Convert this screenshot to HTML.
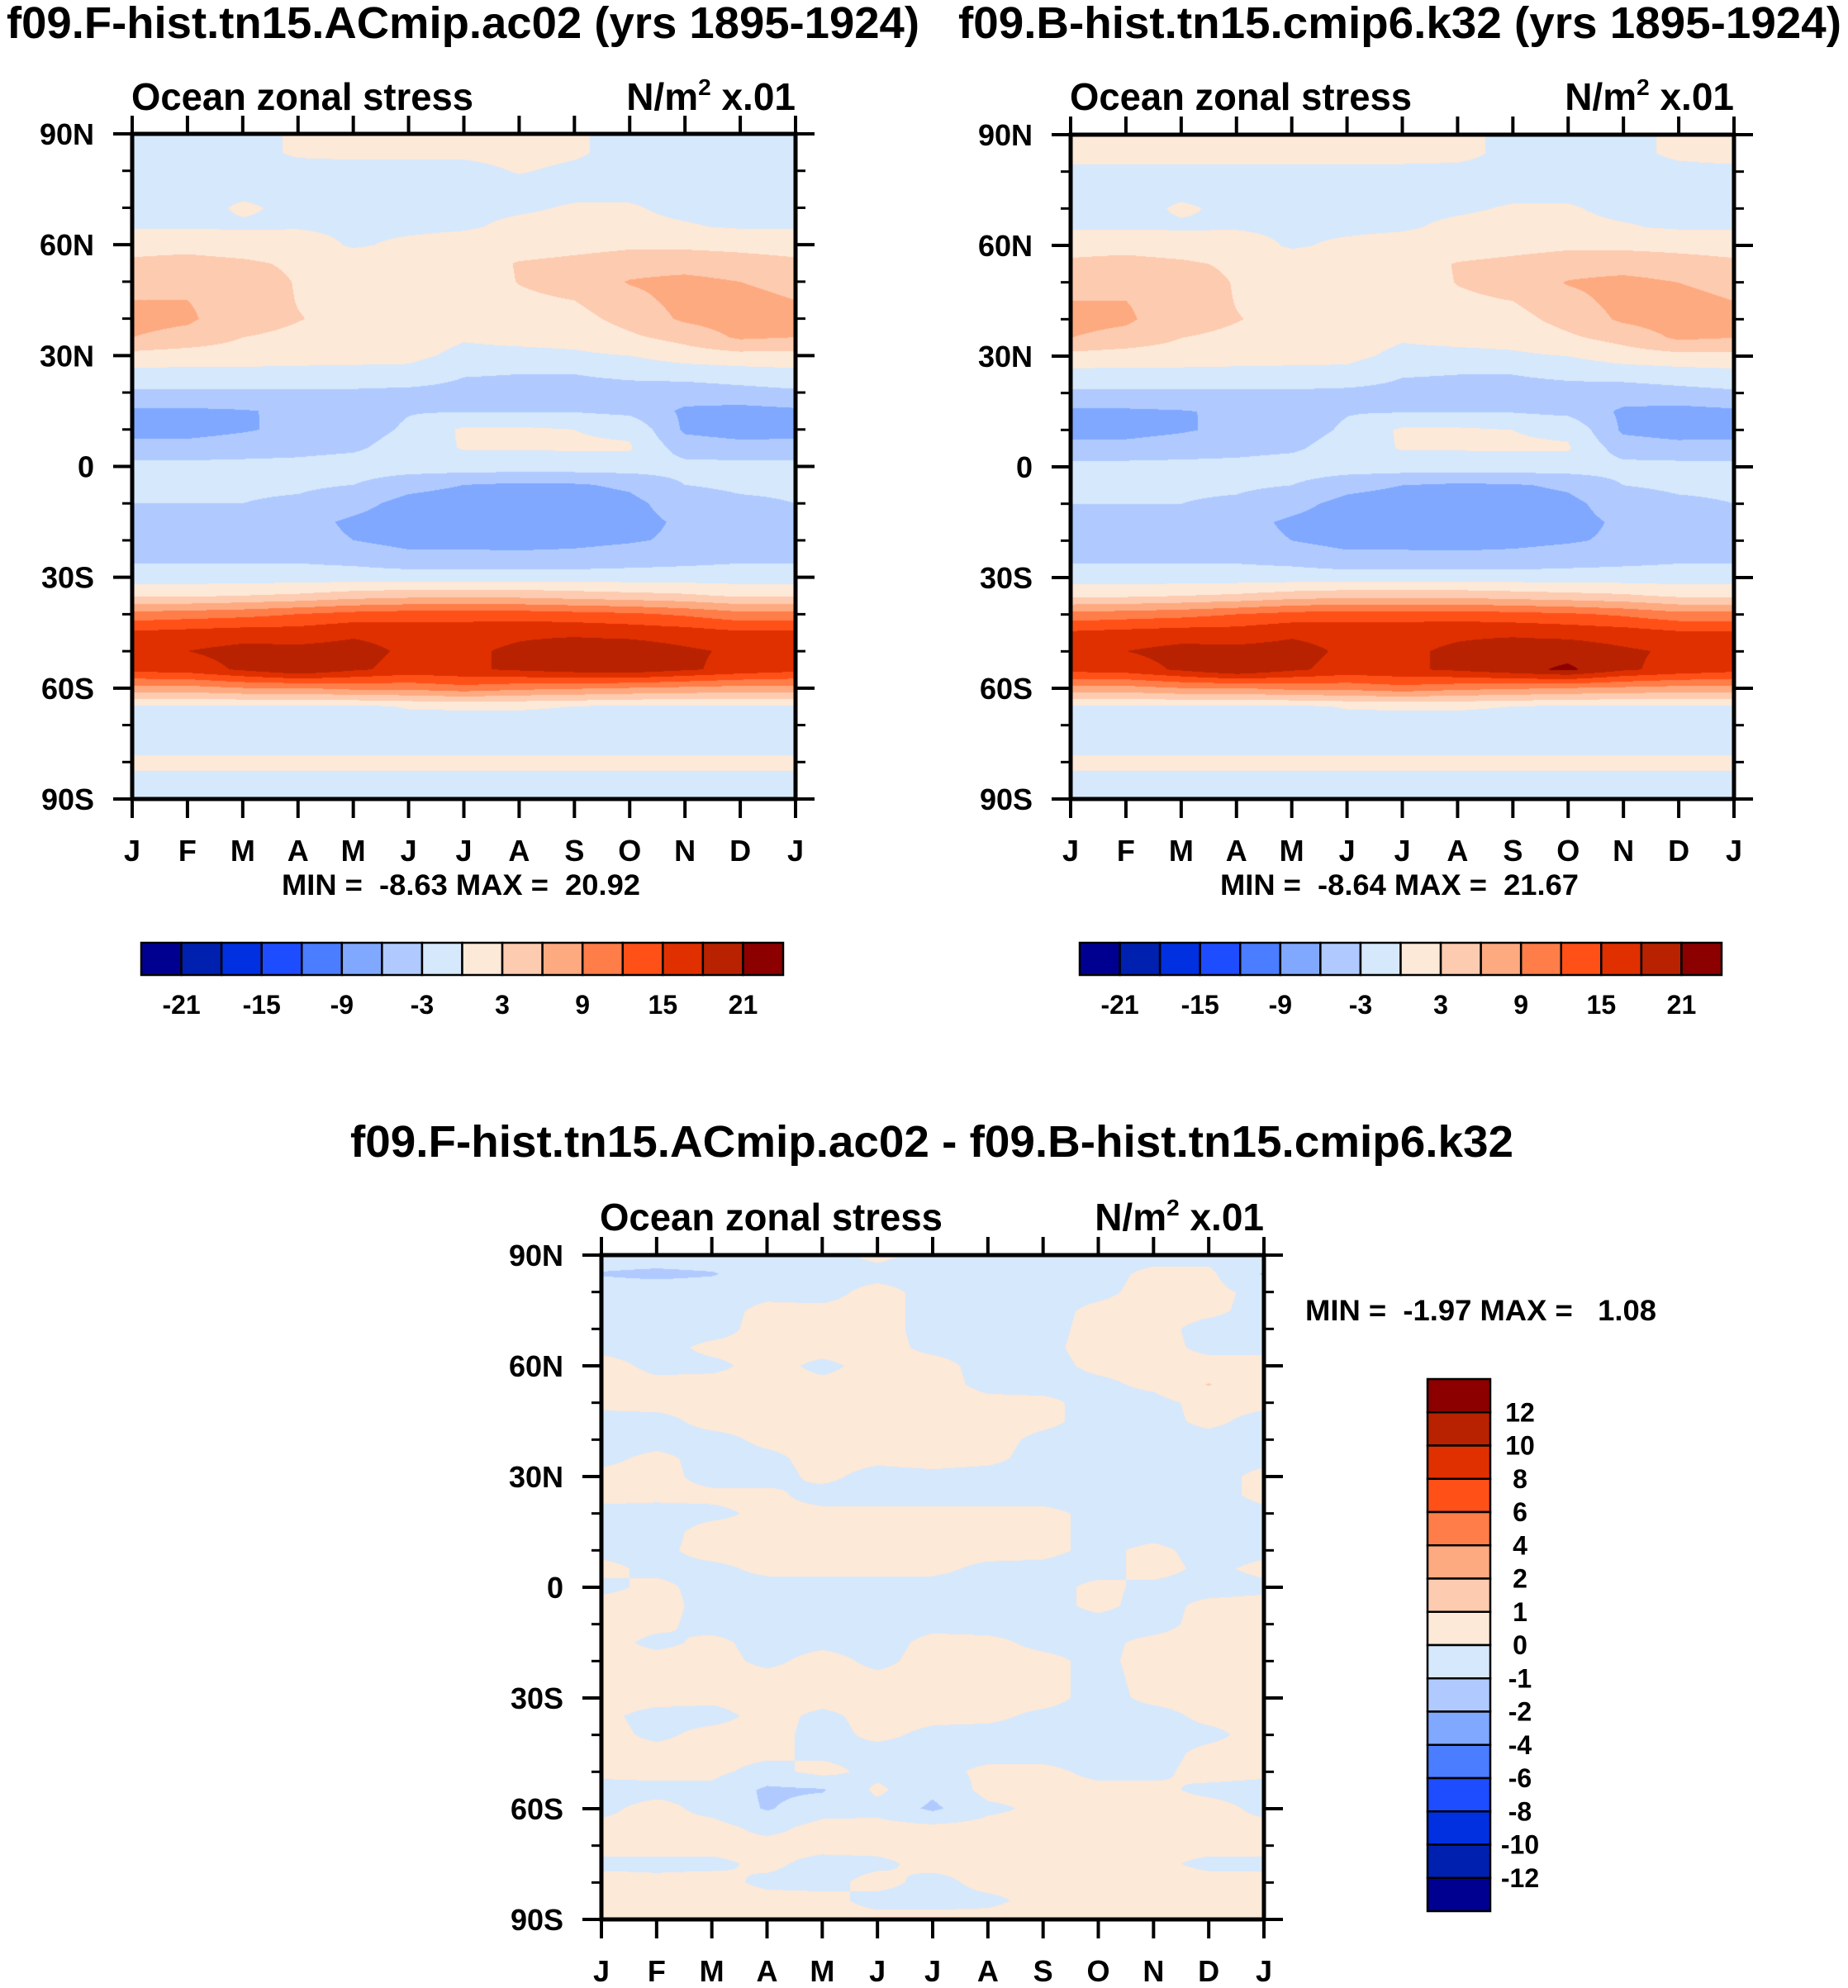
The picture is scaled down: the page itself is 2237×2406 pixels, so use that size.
<!DOCTYPE html>
<html><head><meta charset="utf-8"><title>Ocean zonal stress</title>
<style>
html,body{margin:0;padding:0;background:#fff;}
#wrap{position:relative;width:2237px;height:2406px;overflow:hidden;background:#fff;}
canvas{position:absolute;display:block;}
svg{position:absolute;left:0;top:0;}
text{font-family:"Liberation Sans",Arial,sans-serif;font-weight:bold;fill:#000;}
</style></head>
<body>
<div id="wrap">
<canvas id="cv1" width="803" height="805" style="left:160px;top:162px"></canvas>
<canvas id="cv2" width="803" height="804" style="left:1296px;top:163px"></canvas>
<canvas id="cv3" width="802" height="804" style="left:728px;top:1519px"></canvas>
<svg id="ov" width="2237" height="2406" viewBox="0 0 2237 2406">
<text x="8" y="46" font-size="54" textLength="1105" lengthAdjust="spacingAndGlyphs">f09.F-hist.tn15.ACmip.ac02 (yrs 1895-1924)</text>
<text x="1160" y="46" font-size="54" textLength="1069" lengthAdjust="spacingAndGlyphs">f09.B-hist.tn15.cmip6.k32 (yrs 1895-1924)</text>
<text x="424" y="1400" font-size="54" textLength="1408" lengthAdjust="spacingAndGlyphs">f09.F-hist.tn15.ACmip.ac02 - f09.B-hist.tn15.cmip6.k32</text>

<text x="159" y="133" font-size="46" textLength="414" lengthAdjust="spacingAndGlyphs">Ocean zonal stress</text>
<text x="963" y="133" font-size="46" text-anchor="end">N/m<tspan font-size="28" dy="-18">2</tspan><tspan dy="18"> x.01</tspan></text>
<text x="1295" y="133" font-size="46" textLength="414" lengthAdjust="spacingAndGlyphs">Ocean zonal stress</text>
<text x="2099" y="133" font-size="46" text-anchor="end">N/m<tspan font-size="28" dy="-18">2</tspan><tspan dy="18"> x.01</tspan></text>
<text x="726" y="1489" font-size="46" textLength="415" lengthAdjust="spacingAndGlyphs">Ocean zonal stress</text>
<text x="1530" y="1489" font-size="46" text-anchor="end">N/m<tspan font-size="28" dy="-18">2</tspan><tspan dy="18"> x.01</tspan></text>

<text x="341" y="1083" font-size="35" textLength="434" lengthAdjust="spacingAndGlyphs" xml:space="preserve">MIN =  -8.63 MAX =  20.92</text>
<text x="1477" y="1083" font-size="35" textLength="434" lengthAdjust="spacingAndGlyphs" xml:space="preserve">MIN =  -8.64 MAX =  21.67</text>
<text x="1580" y="1598" font-size="35" textLength="425" lengthAdjust="spacingAndGlyphs" xml:space="preserve">MIN =  -1.97 MAX =   1.08</text>
<g id="axes"></g>
</svg>
</div>
<script>
const palette = ['#000090','#0020b0','#0030e0','#1e4cff','#4a7dff','#80a8ff','#b0caff','#d6e8fc','#fde9d8','#fdcbb0','#fdaa80','#ff7d48','#ff5018','#e03000','#b82200','#8c0000'];
const levelsMain = [-21,-18,-15,-12,-9,-6,-3,0,3,6,9,12,15,18,21];
const levelsDiff = [-12,-10,-8,-6,-4,-2,-1,0,1,2,4,6,8,10,12];
const cbarMainLabels = [-21,-15,-9,-3,3,9,15,21];
const cbarDiffLabels = [12,10,8,6,4,2,1,0,-1,-2,-4,-6,-8,-10,-12];
const monthLabels = ['J','F','M','A','M','J','J','A','S','O','N','D','J'];
const latTicks = [90,60,30,0,-30,-60,-90];
const latTickLabels = ['90N','60N','30N','0','30S','60S','90S'];
const latMinor = [80,70,50,40,20,10,-10,-20,-40,-50,-70,-80];

const acJan=[-0.5,-0.5,-0.5,-0.5,-0.8,-0.3,2,3.5,5,6,7,6,2,-1,-3.5,-6.5,-7,-5,-2,-2.5,-3,-4,-4.5,-3.5,-1.5,2.5,10,15.5,17.5,16,8,-0.5,-1,-1,0.5,-0.5,-0.5];
const acFeb=[-0.5,-0.5,-0.5,-0.5,-0.8,-0.3,2,4,5,6,6.5,5,1.5,-1,-3.5,-6.5,-7,-5,-2,-2.5,-3,-4,-4.5,-3.5,-1.5,2.5,10.5,16,18,16.5,8,-0.5,-1,-1,0.5,-0.5,-0.5];
const acMar=[-0.5,-0.5,-0.5,-0.5,0.3,-0.3,1.5,3.5,4.5,4.5,4,3,1.5,-1,-3.5,-6.2,-6.3,-4.5,-2,-2.5,-3,-4,-4.5,-3.5,-1.5,3,11,16.5,19,18.5,9,-0.5,-1,-1,0.5,-0.5,-0.5];
const acApr=[0.2,0.2,-0.5,-0.5,-0.5,-0.2,1.2,2.5,2.8,2.9,3.1,2.5,1.2,-1,-3.5,-5.5,-5.3,-4,-2,-2.5,-3.5,-5,-5,-3.5,-1.5,3.5,12,16.5,18.8,20.8,9,-0.5,-1,-1,0.5,-0.5,-0.5];
const acMay=[0.3,0.3,-0.5,-0.5,-0.5,-0.5,-0.3,1.5,2,2.2,2.3,2,1,-1,-3.5,-4.5,-4.5,-3.5,-1.5,-3,-5,-6.5,-6,-4,-1.5,4.5,13,17.5,19,18.5,10,-0.5,-1,-1,0.5,-0.5,-0.5];
const acJun=[0.3,0.3,-0.5,-0.5,-0.5,-0.5,0.5,1.5,1.5,1.8,1.8,1.5,0.8,-1,-3.8,-3.2,-2.5,-1.5,-1.5,-5,-7,-7.5,-7,-5,-1.5,5,13.5,17,17.5,17,10,0.2,-1,-1,0.5,-0.5,-0.5];
const acJul=[0.3,0.3,-0.5,-0.5,-0.5,-0.3,1,1.5,1.5,1.5,1.2,0.3,-0.8,-2.8,-4,-3.2,0.5,0.2,-1.5,-6,-7.5,-7.8,-7,-5,-1.5,5,13.5,17,17.5,17.5,11,0.3,-1,-1,0.5,-0.5,-0.5];
const acAug=[0.5,0.5,0.1,-0.5,-0.3,0.5,1.5,3.2,3.1,2.5,1.8,0.8,-0.8,-3,-4,-3.2,0.5,0.2,-1.5,-6.5,-7.8,-8,-7.2,-5,-1.5,5,13.5,17.5,18.5,18.5,10,0.3,-1,-1,0.5,-0.5,-0.5];
const acSep=[0.2,0.2,-0.3,-0.5,0.2,0.8,2,3.8,4,3,2,1,-0.5,-3,-4,-3.2,0,0.3,-1.5,-6.3,-7.5,-7.8,-6.8,-5,-1.5,4.5,13,17.5,19.5,19.5,9.5,0,-1,-1,0.5,-0.5,-0.5];
const acOct=[-0.5,-0.5,-0.5,-0.5,0.2,0.5,2.5,4.5,6.2,5,4,2.5,0,-2.5,-4,-3.8,-0.5,0.3,-1.5,-5.5,-6.8,-7,-6.3,-4.5,-1.5,4,12.5,17,19.8,20,9,-0.5,-1,-1,0.5,-0.5,-0.5];
const acNov=[-0.5,-0.5,-0.5,-0.5,-0.5,0.2,2.5,4.5,7,7,6.5,4,1.5,-2,-4.5,-6.5,-6.5,-4.5,-2,-3,-4.5,-5.5,-5.5,-4,-1.5,3.5,11.5,16.5,18.5,18.5,8.5,-0.5,-1,-1,0.5,-0.5,-0.5];
const acDec=[-0.5,-0.5,-0.5,-0.5,-0.5,-0.3,2.3,4,6,7,7.5,6.5,2,-1.5,-4,-7,-7.2,-5,-2,-2.5,-3.5,-4.5,-4.8,-3.5,-1.5,2.5,10,15.5,17.5,17,8,-0.5,-1,-1,0.5,-0.5,-0.5];
const acMonths=[acJan,acFeb,acMar,acApr,acMay,acJun,acJul,acAug,acSep,acOct,acNov,acDec];

const kJan=[0.4,0.4,-0.3,-0.5,-0.8,-0.3,2,3.5,5,6,7,6,2,-1,-3.5,-6.5,-7,-5,-2,-2.5,-3,-4,-4.5,-3.5,-1.5,2.5,10,15.5,17.5,16,8,-0.5,-1,-1,0.5,-0.5,-0.5];
const kFeb=[0.4,0.4,-0.3,-0.5,-0.8,-0.3,2,4,5,6,6.5,5,1.5,-1,-3.5,-6.5,-7,-5,-2,-2.5,-3,-4,-4.5,-3.5,-1.5,2.5,10.5,16,18,16.5,8,-0.5,-1,-1,0.5,-0.5,-0.5];
const kMar=[0.4,0.4,-0.3,-0.5,0.3,-0.3,1.5,3.5,4.5,4.5,4,3,1.5,-1,-3.5,-6.2,-6.3,-4.5,-2,-2.5,-3,-4,-4.5,-3.5,-1.5,3,11,16.5,19,18.5,9,-0.5,-1,-1,0.5,-0.5,-0.5];
const kApr=[0.4,0.4,-0.3,-0.5,-0.5,-0.2,1.2,2.5,2.8,2.9,3.1,2.5,1.2,-1,-3.5,-5.5,-5.3,-4,-2,-2.5,-3.5,-5,-5,-3.5,-1.5,3.5,12,16.5,18.8,20.8,9,-0.5,-1,-1,0.5,-0.5,-0.5];
const kMay=[0.4,0.4,-0.3,-0.5,-0.5,-0.5,-0.3,1.5,2,2.2,2.3,2,1,-1,-3.5,-4.5,-4.5,-3.5,-1.5,-3,-5,-6.5,-6,-4,-1.5,4.5,13,17.5,19,18.5,10,-0.5,-1,-1,0.5,-0.5,-0.5];
const kJun=[0.4,0.4,-0.3,-0.5,-0.5,-0.5,0.5,1.5,1.5,1.8,1.8,1.5,0.8,-1,-3.8,-3.2,-2.5,-1.5,-1.5,-5,-7,-7.5,-7,-5,-1.5,5,13.5,17,17.5,17,10,0.2,-1,-1,0.5,-0.5,-0.5];
const kJul=[0.4,0.4,-0.3,-0.5,-0.5,-0.3,1,1.5,1.5,1.5,1.2,0.3,-0.8,-2.8,-4,-3.2,0.5,0.2,-1.5,-6,-7.5,-7.8,-7,-5,-1.5,5,13.5,17,17.5,17.5,11,0.3,-1,-1,0.5,-0.5,-0.5];
const kAug=[0.3,0.3,-0.3,-0.5,-0.3,0.5,1.5,3.2,3.1,2.5,1.8,0.8,-0.8,-3,-4,-3.2,0.5,0.2,-1.5,-6.5,-7.8,-8,-7.2,-5,-1.5,5,13.5,17.5,18.5,18.5,10,0.3,-1,-1,0.5,-0.5,-0.5];
const kSep=[-0.3,-0.3,-0.3,-0.5,0.2,0.8,2,3.8,4,3,2,1,-0.5,-3,-4,-3.2,0,0.3,-1.5,-6.3,-7.5,-7.8,-6.8,-5,-1.5,4.5,13,17.5,19.5,20,9.5,0,-1,-1,0.5,-0.5,-0.5];
const kOct=[-0.5,-0.5,-0.5,-0.5,0.2,0.5,2.5,4.5,6.2,5,4,2.5,0,-2.5,-4,-3.8,-0.5,0.3,-1.5,-5.5,-6.8,-7,-6.3,-4.5,-1.5,4,12.5,17,19.8,21.6,9,-0.5,-1,-1,0.5,-0.5,-0.5];
const kNov=[-0.3,-0.3,-0.5,-0.5,-0.5,0.2,2.5,4.5,7,7,6.5,4,1.5,-2,-4.5,-6.5,-6.5,-4.5,-2,-3,-4.5,-5.5,-5.5,-4,-1.5,3.5,11.5,16.5,18.5,18.5,8.5,-0.5,-1,-1,0.5,-0.5,-0.5];
const kDec=[0.2,0.2,-0.3,-0.5,-0.5,-0.3,2.3,4,6,7,7.5,6.5,2,-1.5,-4,-7,-7.2,-5,-2,-2.5,-3.5,-4.5,-4.8,-3.5,-1.5,2.5,10,15.5,17.5,17,8,-0.5,-1,-1,0.5,-0.5,-0.5];
const kMonths=[kJan,kFeb,kMar,kApr,kMay,kJun,kJul,kAug,kSep,kOct,kNov,kDec];

const dJan=[-0.3,-1.1,-0.3,-0.3,-0.3,-0.2,0.3,0.3,0.2,-0.3,-0.3,-0.2,0.2,0.2,-0.2,-0.3,-0.2,0.2,-0.2,0.3,0.3,0.3,0.2,0.3,0.3,0.2,0.3,0.3,0.2,-0.3,-0.2,0.2,0.3,-0.2,0.3,0.2,0.3];
const dFeb=[-0.3,-1.3,-0.3,-0.3,-0.3,-0.3,-0.2,0.2,0.3,-0.3,-0.3,0.2,0.3,0.2,-0.3,-0.3,-0.2,-0.2,0.2,0.3,0.2,-0.2,0.3,0.3,0.3,-0.3,-0.2,0.3,0.3,-0.3,0.3,0.2,0.3,-0.2,0.2,0.3,0.3];
const dMar=[-0.3,-1.1,-0.3,-0.3,-0.3,0.2,-0.2,0.3,0.3,0.3,-0.3,-0.3,-0.3,0.2,-0.2,0.3,0.3,-0.2,-0.3,-0.3,-0.3,0.2,0.3,0.3,0.2,-0.3,0.3,0.3,0.2,-0.2,-0.3,0.3,0.3,-0.2,0.3,0.3,0.3];
const dApr=[-0.3,-0.3,-0.2,0.2,0.3,0.2,0.3,0.3,0.3,0.3,0.2,-0.2,-0.3,0.2,0.2,0.2,0.3,0.2,-0.3,-0.4,-0.3,-0.3,-0.2,0.3,0.3,0.3,0.3,0.2,-0.3,-1.2,-1.1,-0.3,0.3,0.2,-0.2,0.3,0.3];
const dMay=[-0.3,-0.3,-0.3,0.2,0.3,0.3,-0.2,0.2,0.3,0.3,0.3,0.3,0.2,-0.3,0.2,0.3,0.3,0.2,-0.3,-0.3,-0.3,-0.2,0.3,0.3,0.3,-0.2,-0.3,-0.2,0.3,-1.1,-0.4,0.3,0.3,-0.3,-0.3,0.3,0.3];
const dJun=[0.2,-0.3,0.3,0.3,0.3,0.3,0.3,0.3,0.3,0.2,0.3,0.2,-0.3,-0.3,0.2,0.3,0.3,0.2,-0.3,-0.3,-0.3,-0.3,-0.2,0.2,0.3,0.3,0.2,-0.3,-0.3,0.2,-0.3,0.3,0.3,-0.2,0.3,-0.3,0.3];
const dJul=[-0.3,-0.3,-0.3,-0.3,-0.3,-0.2,0.3,0.3,0.3,0.3,0.3,0.3,-0.2,-0.3,0.2,0.3,0.3,0.2,-0.3,-0.3,-0.2,0.2,0.3,0.3,0.3,0.2,-0.2,-0.3,-0.3,-0.8,-1.2,0.2,0.3,0.3,-0.3,-0.3,0.3];
const dAug=[-0.3,-0.3,-0.3,-0.3,-0.3,-0.3,-0.3,-0.2,0.2,0.3,0.3,0.2,-0.3,-0.3,0.2,0.3,0.3,-0.2,-0.3,-0.3,-0.3,0.2,0.3,0.3,0.3,0.2,-0.3,-0.3,0.2,0.3,-0.2,0.3,0.3,0.2,0.3,-0.2,0.3];
const dSep=[-0.3,-0.3,-0.3,-0.3,-0.3,-0.2,-0.3,-0.3,0.2,0.2,-0.2,-0.3,-0.3,-0.3,0.2,0.3,0.2,-0.2,-0.3,-0.3,-0.3,-0.2,0.2,0.3,0.3,-0.2,-0.3,-0.3,0.2,0.3,0.2,0.3,0.3,0.3,0.2,0.3,0.3];
const dOct=[-0.3,-0.3,-0.2,0.2,0.3,0.3,0.2,-0.2,-0.3,-0.3,-0.3,-0.3,-0.3,-0.3,-0.2,-0.3,-0.2,-0.3,0.2,0.2,-0.3,-0.2,-0.2,-0.3,-0.3,-0.3,-0.3,-0.3,-0.2,0.2,0.3,0.3,0.3,0.3,0.3,0.3,0.3];
const dNov=[-0.3,0.2,0.3,0.3,0.3,0.3,0.3,0.2,-0.3,-0.3,-0.3,-0.3,-0.3,-0.3,-0.3,-0.3,0.2,0.3,-0.2,-0.3,-0.3,0.2,0.3,0.3,0.2,-0.3,-0.3,-0.3,-0.2,0.2,0.3,0.3,0.3,0.2,0.3,0.3,0.3];
const dDec=[-0.3,0.2,0.3,0.2,-0.3,-0.2,0.3,1.05,0.3,0.2,-0.3,-0.3,-0.3,-0.3,-0.3,-0.3,-0.3,-0.2,-0.3,0.2,0.3,0.3,0.3,0.3,0.3,0.2,-0.2,0.2,0.3,-0.2,0.3,0.2,0.3,-0.2,0.3,0.3,0.3];
const dMonths=[dJan,dFeb,dMar,dApr,dMay,dJun,dJul,dAug,dSep,dOct,dNov,dDec];

function hexRgb(h){return [parseInt(h.slice(1,3),16),parseInt(h.slice(3,5),16),parseInt(h.slice(5,7),16)];}
const rgbPal = palette.map(hexRgb);

function drawField(id, months, bounds){
  const cv=document.getElementById(id);
  const W=cv.width,H=cv.height,ctx=cv.getContext('2d');
  const img=ctx.createImageData(W,H);
  const nLat=months[0].length, nM=months.length;
  for(let y=0;y<H;y++){
    const ly=y/(H-1)*(nLat-1);
    let i0=Math.floor(ly); if(i0>=nLat-1)i0=nLat-2;
    const fy=ly-i0;
    for(let x=0;x<W;x++){
      const t=x/(W-1)*nM;
      let j0=Math.floor(t); if(j0>=nM)j0=nM-1;
      const fx=t-j0, j1=(j0+1)%nM;
      const a=months[j0][i0]*(1-fy)+months[j0][i0+1]*fy;
      const b=months[j1][i0]*(1-fy)+months[j1][i0+1]*fy;
      const v=a*(1-fx)+b*fx;
      let k=0; while(k<bounds.length && v>=bounds[k])k++;
      const c=rgbPal[k], p=(y*W+x)*4;
      img.data[p]=c[0];img.data[p+1]=c[1];img.data[p+2]=c[2];img.data[p+3]=255;
    }
  }
  ctx.putImageData(img,0,0);
}
drawField('cv1',acMonths,levelsMain);
drawField('cv2',kMonths,levelsMain);
drawField('cv3',dMonths,levelsDiff);

const NS='http://www.w3.org/2000/svg';
const axesG=document.getElementById('axes');
function mk(tag,attrs){const e=document.createElementNS(NS,tag);for(const k in attrs)e.setAttribute(k,attrs[k]);axesG.appendChild(e);return e;}

function drawAxes(L,T,R,B,pfx){
  const yOf=lat=>T+(90-lat)/180*(B-T);
  const xOf=i=>L+i/12*(R-L);
  const fr=mk('rect',{x:L,y:T,width:R-L,height:B-T,fill:'none',stroke:'#000','stroke-width':5});
  
  
  for(let i=0;i<monthLabels.length;i++){
    const x=xOf(i);
    const t1=mk('line',{x1:x,y1:T,x2:x,y2:T-22,stroke:'#000','stroke-width':4});
    
    
    const t2=mk('line',{x1:x,y1:B,x2:x,y2:B+23,stroke:'#000','stroke-width':4});
    
    
    const tx=mk('text',{x:x,y:B+75,'font-size':36,'text-anchor':'middle'});
    tx.textContent=monthLabels[i];
    
    
  }
  for(let i=0;i<latTicks.length;i++){
    const y=yOf(latTicks[i]);
    const a=mk('line',{x1:L-23,y1:y,x2:L,y2:y,stroke:'#000','stroke-width':4});
    
    
    const b=mk('line',{x1:R,y1:y,x2:R+23,y2:y,stroke:'#000','stroke-width':4});
    
    
    const tx=mk('text',{x:L-46,y:y+13,'font-size':36,'text-anchor':'end'});
    tx.textContent=latTickLabels[i];
    
    
  }
  for(let i=0;i<latMinor.length;i++){
    const y=yOf(latMinor[i]);
    const a=mk('line',{x1:L-12,y1:y,x2:L,y2:y,stroke:'#000','stroke-width':3});
    
    
    const b=mk('line',{x1:R,y1:y,x2:R+12,y2:y,stroke:'#000','stroke-width':3});
    
    
  }
}
drawAxes(160,162,963,967,'ac02');
drawAxes(1296,163,2099,967,'k32');
drawAxes(728,1519,1530,2323,'diff');

function hBar(L,T,W,H,pfx){
  const bw=W/palette.length;
  for(let i=0;i<palette.length;i++){
    const r=mk('rect',{x:L+i*bw,y:T,width:bw,height:H,fill:palette[i],stroke:'#000','stroke-width':2.5});
    
    
  }
  for(let i=0;i<levelsMain.length;i++){
    if(cbarMainLabels.indexOf(levelsMain[i])<0)continue;
    const tx=mk('text',{x:L+(i+1)*bw,y:T+H+47,'font-size':32,'text-anchor':'middle'});
    tx.textContent=String(levelsMain[i]);
    
    
  }
}
hBar(171,1141,777,39,'ac02');
hBar(1307,1141,777,39,'k32');

(function vBar(){
  const L=1728,T=1669,W=76,H=644,n=palette.length,bh=H/n;
  for(let i=0;i<n;i++){
    const r=mk('rect',{x:L,y:T+i*bh,width:W,height:bh,fill:palette[n-1-i],stroke:'#000','stroke-width':2.5});
    
    
  }
  for(let i=0;i<cbarDiffLabels.length;i++){
    const tx=mk('text',{x:1840,y:T+(i+1)*bh+11,'font-size':32,'text-anchor':'middle'});
    tx.textContent=String(cbarDiffLabels[i]);
    
    
  }
})();
</script>
</body></html>
